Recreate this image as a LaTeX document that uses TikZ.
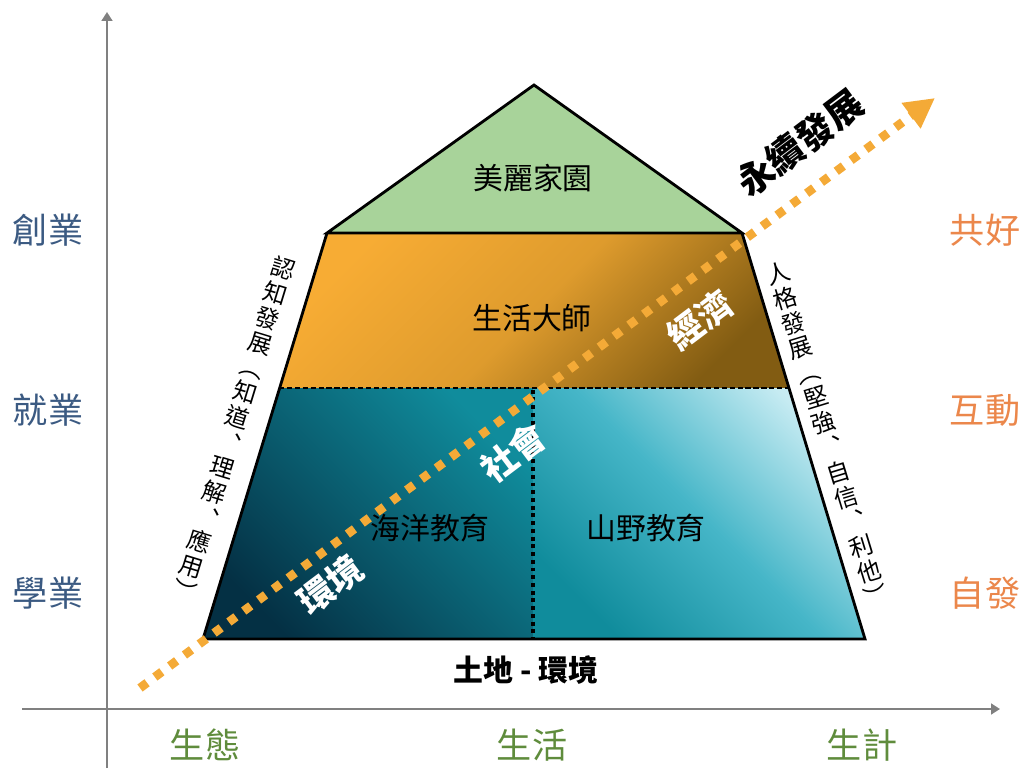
\documentclass[tikz,border=0pt]{standalone}
\usepackage{fontspec}
\setmainfont{Noto Sans CJK TC}
\usetikzlibrary{arrows.meta}
\definecolor{axisgray}{RGB}{128,128,128}
\definecolor{roofgreen}{RGB}{168,211,154}
\definecolor{bandorange}{RGB}{247,172,52}
\definecolor{bandmid}{RGB}{222,155,45}
\definecolor{bandbrown}{RGB}{130,92,18}
\definecolor{seadark}{RGB}{4,48,68}
\definecolor{seateal}{RGB}{16,140,156}
\definecolor{seamid}{RGB}{70,182,200}
\definecolor{sealight}{RGB}{200,236,243}
\definecolor{pathorange}{RGB}{244,170,55}
\definecolor{jobblue}{RGB}{59,90,130}
\definecolor{goodorange}{RGB}{235,135,75}
\definecolor{lifegreen}{RGB}{95,140,60}
\begin{document}
\begin{tikzpicture}[x=0.02cm,y=-0.02cm,
    axis/.style={draw=axisgray,line width=1.7pt,-{Triangle[length=5pt,width=6pt]}},
    edge/.style={line width=1.6pt},
    lbl/.style={font=\fontsize{17}{20}\selectfont},
    side/.style={font=\fontsize{20}{24}\selectfont},
    wlbl/.style={text=white,font=\bfseries\fontsize{20}{24}\selectfont,rotate=37},
    col/.style={align=center,font=\fontsize{13.5}{14.8}\selectfont}]
\useasboundingbox (0,0) rectangle (1024,770);
% axes
\coordinate (o) at (107,709);
\coordinate (ytop) at (107,12);
\coordinate (ybot) at (107,768);
\coordinate (xleft) at (22,709);
\coordinate (xright) at (1000,709);
\draw[axis] (ybot) -- (ytop);
\draw[axis] (xleft) -- (xright);
% pyramid corners
\coordinate (apex) at (534,85);
\coordinate (rl) at (327,233);
\coordinate (rr) at (742,233);
\coordinate (ml) at (279,388);
\coordinate (mr) at (789,388);
\coordinate (bl) at (203,639);
\coordinate (br) at (865,639);
\coordinate (mt) at (533,388);
\coordinate (mb) at (533,639);
\fill[roofgreen] (apex) -- (rr) -- (rl) -- cycle;
\shade[top color=bandorange,bottom color=bandbrown,middle color=bandmid,shading angle=45]
    (rl) -- (rr) -- (mr) -- (ml) -- cycle;
\shade[top color=seateal,bottom color=seadark,shading angle=-45]
    (ml) -- (mt) -- (mb) -- (bl) -- cycle;
\shade[top color=sealight,bottom color=seateal,middle color=seamid,shading angle=-45]
    (mt) -- (mr) -- (br) -- (mb) -- cycle;
\draw[edge] (rl) -- (apex) -- (rr) -- cycle;
\draw[edge] (rl) -- (bl) -- (br) -- (rr);
\draw[line width=1.2pt,dash pattern=on 3pt off 1.5pt] (ml) -- (mr);
\draw[line width=2.2pt,dash pattern=on 2.2pt off 2.2pt,shorten <=1pt,shorten >=1pt] (mt) -- (mb);
% sustainability path
\coordinate (pstart) at (140,688);
\coordinate (pend) at (935,98);
\draw[pathorange,line width=5pt,dash pattern=on 5pt off 5.5pt,
    -{Triangle[length=17pt,width=17pt]}] (pstart) -- (pend);
% pyramid texts
\node[lbl] (home) at (533,178) {美麗家園};
\node[lbl] (master) at (532,318) {生活大師};
\node[lbl] (ocean) at (430,528) {海洋教育};
\node[lbl] (mount) at (646,528) {山野教育};
\node[lbl,font=\bfseries\fontsize{17}{20}\selectfont] (land) at (526,670) {土地 - 環境};
\node[font=\bfseries\fontsize{21}{24}\selectfont,rotate=37] (sus) at (800,143) {永續發展};
\node[wlbl] (econ) at (700,320) {經濟};
\node[wlbl] (soc) at (513,453) {社會};
\node[wlbl] (env) at (330,585) {環境};
\node[col,rotate=-17] (cog) at (234,429)
    {認\\知\\發\\展\\︵\\知\\道\\︑\\理\\解\\︑\\應\\用\\︶};
\node[col,rotate=17] (pers) at (827,434)
    {人\\格\\發\\展\\︵\\堅\\強\\︑\\自\\信\\︑\\利\\他\\︶};
% axis labels
\node[side,text=jobblue] (y3) at (48,230) {創業};
\node[side,text=jobblue] (y2) at (48,410) {就業};
\node[side,text=jobblue] (y1) at (48,593) {學業};
\node[side,text=goodorange] (r3) at (985,230) {共好};
\node[side,text=goodorange] (r2) at (985,410) {互動};
\node[side,text=goodorange] (r1) at (985,593) {自發};
\node[side,text=lifegreen] (x1) at (205,745) {生態};
\node[side,text=lifegreen] (x2) at (532,745) {生活};
\node[side,text=lifegreen] (x3) at (862,745) {生計};
\end{tikzpicture}
\end{document}
